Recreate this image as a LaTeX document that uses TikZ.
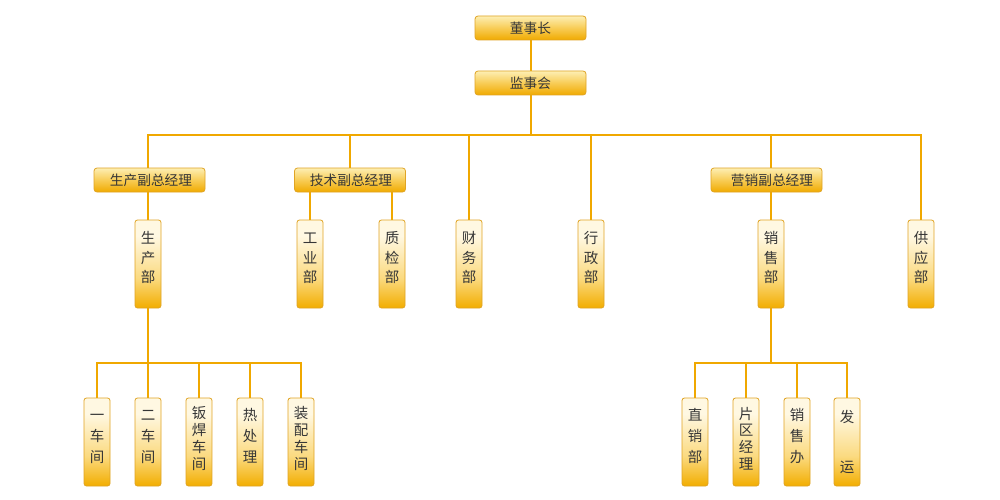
\documentclass[tikz,border=0pt]{standalone}
\usepackage{fontspec}
\setmainfont{Noto Sans CJK SC}
\usetikzlibrary{backgrounds}
\definecolor{gtop}{HTML}{FFF8E2}
\definecolor{gmid}{HTML}{FBDA80}
\definecolor{gbot}{HTML}{F2AD00}
\definecolor{htop}{HTML}{FDEFB4}
\definecolor{hmid}{HTML}{F8CC55}
\definecolor{hbot}{HTML}{F0AA00}
\definecolor{bord}{HTML}{E0A424}
\definecolor{lc}{HTML}{F0A800}
\definecolor{tx}{HTML}{363636}
\pgfdeclareverticalshading{vg}{100bp}{color(0bp)=(gbot); color(25bp)=(gbot); color(42bp)=(gmid); color(66bp)=(gtop); color(100bp)=(gtop)}
\pgfdeclareverticalshading{hg}{100bp}{color(0bp)=(hbot); color(25bp)=(hbot); color(50bp)=(hmid); color(75bp)=(htop); color(100bp)=(htop)}
\newcommand\vcol[3]{\raisebox{#1}[\height][\depth]{\fontsize{14.5}{#2}\selectfont\begin{tabular}{@{}c@{}}#3\end{tabular}}}
\tikzset{
  vb/.style={draw=bord, line width=0.8pt, rounded corners=2.5pt, shading=vg,
    minimum width=26pt, minimum height=88pt, inner sep=0pt, text=tx},
  hb/.style={draw=bord, line width=0.8pt, rounded corners=3pt, shading=hg,
    minimum width=111pt, minimum height=24pt, inner sep=0pt, text=tx,
    font=\fontsize{13.7}{16}\selectfont},
  ln/.style={draw=lc, line width=1.5pt}
}
\begin{document}
\begin{tikzpicture}[x=1pt,y=-1pt]
\useasboundingbox (0,0) rectangle (1000,500);
% top
\node[hb] (dsz) at (530.5,28) {董事长};
\node[hb] (jsh) at (530.5,83) {监事会};
% second level
\node[hb] (scfz) at (149.5,180) {\hspace*{3pt}生产副总经理};
\node[hb] (jsfz) at (350,180) {\hspace*{2pt}技术副总经理};
\node[hb] (yxfz) at (766.5,180) {\hspace*{11pt}营销副总经理};
% departments
\node[vb] (scb) at (148,264) {\vcol{4.6pt}{19.5}{生\\产\\部}};
\node[vb] (gyb) at (310,264) {\vcol{4.6pt}{19.5}{工\\业\\部}};
\node[vb] (zjb) at (392,264) {\vcol{4.6pt}{19.5}{质\\检\\部}};
\node[vb] (cwb) at (469,264) {\vcol{4.6pt}{19.5}{财\\务\\部}};
\node[vb] (xzb) at (591,264) {\vcol{4.6pt}{19.5}{行\\政\\部}};
\node[vb] (xsb) at (771,264) {\vcol{4.6pt}{19.5}{销\\售\\部}};
\node[vb] (gyingb) at (921,264) {\vcol{4.6pt}{19.5}{供\\应\\部}};
% bottom left
\node[vb] (c1) at (97,442) {\vcol{5pt}{21}{一\\车\\间}};
\node[vb] (c2) at (148,442) {\vcol{5pt}{21}{二\\车\\间}};
\node[vb] (c3) at (199,442) {\vcol{1.5pt}{16.5}{钣\\焊\\车\\间}};
\node[vb] (c4) at (250,442) {\vcol{5pt}{21}{热\\处\\理}};
\node[vb] (c5) at (301,442) {\vcol{1.5pt}{16.5}{装\\配\\车\\间}};
% bottom right
\node[vb] (d1) at (695,442) {\vcol{5pt}{21}{直\\销\\部}};
\node[vb] (d2) at (746,442) {\vcol{1.5pt}{16.5}{片\\区\\经\\理}};
\node[vb] (d3) at (797,442) {\vcol{5pt}{21}{销\\售\\办}};
\node[vb] (d4) at (847,442) {\vcol{0pt}{25}{发\\ \\运}};
\begin{scope}[on background layer]
  \fill[white] (0,0) rectangle (1000,500);
  \coordinate (b0) at (531,135);
  \coordinate (bl) at (148,363);
  \coordinate (br) at (771,363);
  \draw[ln] (b0 |- dsz.south) -- (b0 |- jsh.north);
  \draw[ln] (b0 |- jsh.south) -- (b0);
  \draw[ln] (b0) -| (scb.north);
  \draw[ln] (b0) -| (jsfz.north);
  \draw[ln] (b0) -| (cwb.north);
  \draw[ln] (b0) -| (xzb.north);
  \draw[ln] (b0) -| (xsb.north);
  \draw[ln] (b0) -| (gyingb.north);
  \draw[ln] (gyb.north |- jsfz.south) -- (gyb.north);
  \draw[ln] (zjb.north |- jsfz.south) -- (zjb.north);
  \draw[ln] (scb.south) -- (c2.north);
  \draw[ln] (bl) -| (c1.north);
  \draw[ln] (bl) -| (c3.north);
  \draw[ln] (bl) -| (c4.north);
  \draw[ln] (bl) -| (c5.north);
  \draw[ln] (xsb.south) -- (br);
  \draw[ln] (br) -| (d1.north);
  \draw[ln] (br) -| (d2.north);
  \draw[ln] (br) -| (d3.north);
  \draw[ln] (br) -| (d4.north);
\end{scope}
\end{tikzpicture}
\end{document}
